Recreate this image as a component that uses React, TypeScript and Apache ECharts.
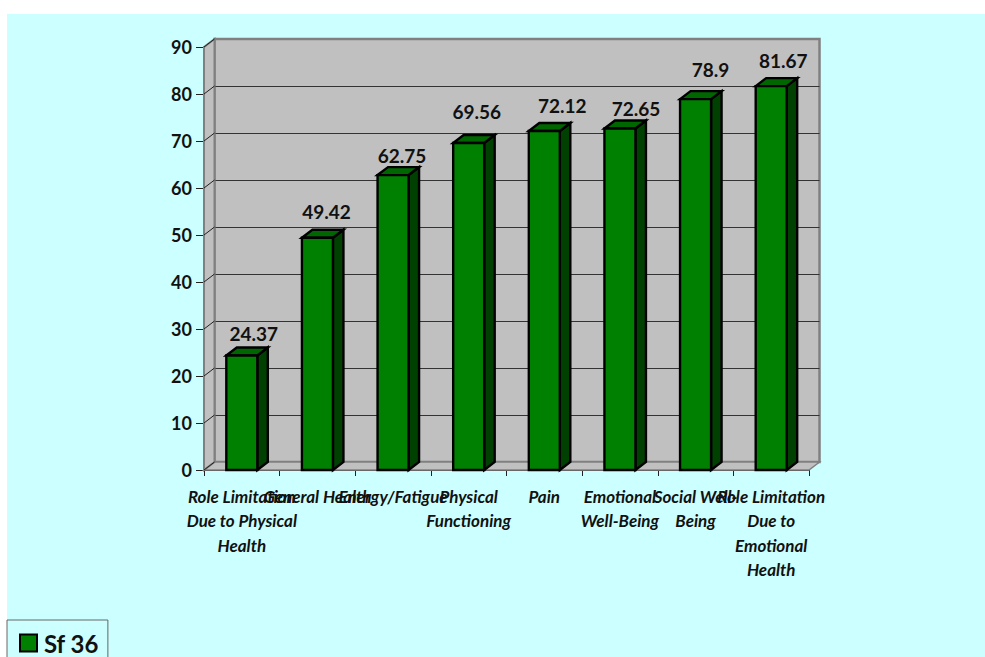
import React, { useEffect, useRef } from "react";
import * as echarts from "echarts";

const categories = [
  "Role Limitation\nDue to Physical\nHealth",
  "General Health",
  "Energy/Fatigue",
  "Physical\nFunctioning",
  "Pain",
  "Emotional\nWell-Being",
  "Social Well-\nBeing",
  "Role Limitation\nDue to\nEmotional\nHealth",
];
const sf36Values = [24.37, 49.42, 62.75, 69.56, 72.12, 72.65, 78.9, 81.67];
const valueLabels = ["24.37", "49.42", "62.75", "69.56", "72.12", "72.65", "78.9", "81.67"];
const yTicks = [0, 10, 20, 30, 40, 50, 60, 70, 80, 90];
const seriesName = "Sf 36";

// Label placement relative to the bar's top-centre, as in the original's hand-dragged labels.
const labelNudgeX = [12, 9, 9, 8, 18, 16, 15, 12];
const labelNudgeY = [22, 26, 20, 32, 26, 20, 30, 26];

const FONT = "Lato, Carlito, 'Open Sans', sans-serif";
const DX = 10.5;
const DY = -8;

const renderWall = (params: any, api: any) => {
  const v = api.value(0);
  const [x0, y] = api.coord([0, v]);
  const left = x0 - api.size([1, 0])[0] / 2;
  const children: any[] = [
    {
      type: "line",
      shape: { x1: left, y1: y, x2: left + DX, y2: y + DY },
      style: { stroke: "#222", lineWidth: 1 },
    },
  ];
  if (params.dataIndex === 0) {
    const w = api.size([1, 0])[0] * categories.length;
    const top = api.coord([0, yTicks[yTicks.length - 1]])[1];
    children.unshift(
      {
        type: "polygon",
        shape: {
          points: [
            [left, y],
            [left + DX, y + DY],
            [left + w + DX, y + DY],
            [left + w, y],
          ],
        },
        style: { fill: "#c0c0c0", stroke: "#808080", lineWidth: 1.5 },
      },
      {
        type: "polygon",
        shape: {
          points: [
            [left, top],
            [left + DX, top + DY],
            [left + DX, y + DY],
            [left, y],
          ],
        },
        style: { fill: "#c0c0c0", stroke: "#808080", lineWidth: 2 },
      },
    );
  }
  return { type: "group", children };
};

const renderBar = (params: any, api: any) => {
  const i = api.value(0);
  const v = api.value(1);
  const [cx, yTop] = api.coord([i, v]);
  const [, yBase] = api.coord([i, 0]);
  const w = api.size([1, 0])[0] * 0.41;
  const l = cx - w / 2;
  const r = cx + w / 2;
  const edge = { stroke: "#000", lineWidth: 2.4, lineJoin: "miter" };
  return {
    type: "group",
    children: [
      {
        type: "polygon",
        shape: { points: [[r, yTop], [r + DX, yTop + DY], [r + DX, yBase + DY], [r, yBase]] },
        style: { fill: "#004000", ...edge },
      },
      {
        type: "polygon",
        shape: { points: [[l, yTop], [l + DX, yTop + DY], [r + DX, yTop + DY], [r, yTop]] },
        style: { fill: "#006600", ...edge },
      },
      {
        type: "rect",
        shape: { x: l, y: yTop, width: w, height: yBase - yTop },
        style: { fill: "#008000", ...edge },
      },
      {
        type: "text",
        style: {
          text: valueLabels[params.dataIndex],
          x: cx + labelNudgeX[params.dataIndex],
          y: yTop - labelNudgeY[params.dataIndex],
          align: "center",
          verticalAlign: "middle",
          fill: "#111",
          font: `bold 19px ${FONT}`,
        },
      },
    ],
  };
};

export default function App() {
  const ref = useRef<HTMLDivElement>(null);
  useEffect(() => {
    const chart = echarts.init(ref.current!, undefined, { renderer: "svg" });
    chart.setOption({
      animation: false,
      backgroundColor: "#ffffff",
      graphic: [
        {
          type: "rect",
          z: -1,
          silent: true,
          shape: { x: 7, y: 14, width: 978, height: 643 },
          style: { fill: "#ccffff" },
        },
      ],
      grid: [
        { left: 204, top: 47, width: 605, height: 423, show: false },
        {
          left: 214.5,
          top: 39,
          width: 605,
          height: 423,
          show: true,
          backgroundColor: "#c0c0c0",
          borderColor: "#808080",
          borderWidth: 2.5,
        },
      ],
      legend: {
        show: true,
        data: [seriesName],
        left: 7,
        top: 620,
        padding: [11, 9, 12, 12],
        itemWidth: 17,
        itemHeight: 17,
        itemGap: 0,
        icon: "rect",
        borderColor: "#666",
        borderWidth: 1,
        itemStyle: { color: "#008000", borderColor: "#000", borderWidth: 2 },
        textStyle: { fontFamily: FONT, fontWeight: "bold", fontSize: 24, color: "#111", padding: [0, 0, 0, 2] },
      },
      xAxis: [
        {
          type: "category",
          gridIndex: 0,
          data: categories,
          boundaryGap: true,
          axisLine: { lineStyle: { color: "#222", width: 1 } },
          axisTick: { show: true, length: 6, interval: 0, lineStyle: { color: "#222" } },
          axisLabel: {
            interval: 0,
            hideOverlap: false,
            margin: 14,
            fontFamily: FONT,
            fontStyle: "italic",
            fontWeight: "bold",
            fontSize: 17,
            lineHeight: 24.5,
            color: "#111",
            align: "center",
            verticalAlign: "top",
          },
          splitLine: { show: false },
        },
        {
          type: "category",
          gridIndex: 1,
          data: categories,
          show: false,
        },
      ],
      yAxis: [
        {
          type: "value",
          gridIndex: 0,
          min: 0,
          max: 90,
          interval: 10,
          axisLine: { show: true, lineStyle: { color: "#808080", width: 2 } },
          axisTick: { show: true, length: 8, lineStyle: { color: "#222" } },
          axisLabel: {
            margin: 12,
            fontFamily: FONT,
            fontWeight: "bold",
            fontSize: 18,
            color: "#111",
          },
          splitLine: { show: false },
        },
        {
          type: "value",
          gridIndex: 1,
          min: 0,
          max: 90,
          interval: 10,
          axisLine: { show: false },
          axisTick: { show: false },
          axisLabel: { show: false },
          splitLine: { show: true, showMinLine: false, showMaxLine: false, lineStyle: { color: "#333", width: 1 } },
        },
      ],
      series: [
        {
          type: "custom",
          name: "walls",
          xAxisIndex: 0,
          yAxisIndex: 0,
          z: 1,
          silent: true,
          renderItem: renderWall,
          data: yTicks.map((t) => [t]),
          encode: { y: 0 },
        },
        {
          type: "custom",
          name: seriesName,
          xAxisIndex: 0,
          yAxisIndex: 0,
          z: 3,
          itemStyle: { color: "#008000", borderColor: "#000", borderWidth: 2 },
          renderItem: renderBar,
          data: sf36Values.map((v, i) => [i, v]),
          encode: { x: 0, y: 1 },
        },
      ],
    });
    return () => chart.dispose();
  }, []);
  return (
    <div
      ref={ref}
      style={{ position: "absolute", left: 0, top: 0, width: 985, height: 657, overflow: "hidden" }}
    />
  );
}
